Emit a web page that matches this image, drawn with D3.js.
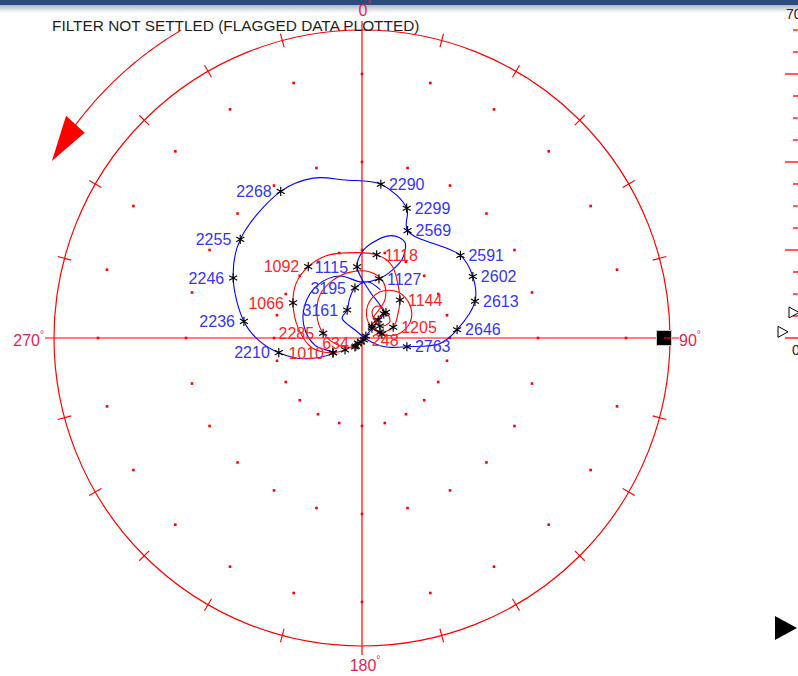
<!DOCTYPE html>
<html><head><meta charset="utf-8">
<script src="https://cdn.jsdelivr.net/npm/d3@7"></script>
<style>
html,body{margin:0;padding:0;background:#fff;overflow:hidden}
svg{display:block;font-family:"Liberation Sans",Arial,sans-serif}
</style></head><body>
<svg id="chart" width="798" height="676"></svg>
<script>
// ---- polar grid ----
const ampMax = 70;                 // full-scale amplitude at the rim
const gridRings = [20, 40, 60];    // rings of grid dots
const gridStep = 15;               // degrees between grid dots / rim ticks
const axisDegrees = [0, 90, 180, 270];
const title = "FILTER NOT SETTLED (FLAGGED DATA PLOTTED)";

// ---- blue trace: amplitude, phase (deg) and marker ("*" = marker only) ----
const blueAmp   = [2.3, 0.9, 1.0, 3.2, 5.5, 7.4, 8.5, 10.6, 16.2, 19.5, 21.7, 24.2, 23.9, 20.3, 16.9, 14.0, 12.7, 15.0, 15.7, 15.0, 13.4, 10.8, 7.4, 13.8, 19.2, 23.6, 27.1, 32.3, 35.6, 38.1, 38.0, 36.1, 35.2, 31.2, 26.5, 29.2, 28.8, 27.0, 21.7, 17.8, 10.4, 5.6, 1.4, 2.4, 6.4, 7.2, 9.5, 11.5, 12.8, 11.7];
const bluePhase = [217, 194, 63, 45, 42, 42, 29, 10, 356, 0, 6, 16, 24, 27, 24, 16, 0, 340, 320, 300, 281, 261, 243, 250, 260, 269, 278, 295, 309, 331, 343, 354, 7, 19, 23, 50, 61, 72, 85, 94, 101, 111, 108, 319, 315, 332, 343, 352, 6, 21];
const blueMark  = ["*","*","*","*","*","*","","","1115","","","","","","","1127","","","","","","","*","","2210","","2236","2246","2255","2268","","","2290","2299","2569","2591","2602","2613","2646","","2763","","","","","3161","","3195","",""];

// ---- red trace ----
const redAmp   = [0.6, 1.5, 4.7, 7.4, 11.6, 14.7, 17.6, 19.5, 20.3, 20.4, 19.7, 19.2, 17.9, 14.9, 12.2, 9.7, 7.5, 4.3, 3.9, 7.6, 11.2, 13.3, 13.2, 11.5, 8.2, 4.6, 3.5, 5.8, 8.0, 7.3, 4.9, 6.3, 7.9, 8.3, 6.4, 5.0, 10.1, 13.6, 15.1, 15.2, 14.7, 13.7, 11.5, 8.9, 5.3, 2.6];
const redPhase = [135, 219, 235, 243, 259, 279, 297, 310, 323, 336, 349, 10, 22, 33, 45, 57, 71, 72, 21, 10, 21, 38, 56, 72, 84, 79, 40, 39, 43, 60, 56, 21, 24, 35, 42, 30, 31, 21, 7, 350, 333, 316, 297, 277, 250, 218];
const redMark  = ["248","634","*","1010","","","1066","","1092","","","1118","","","1144","","1205","*","","","","","","","","*","*","","*","","*","","","","","","","","","","","","","2285","","*"];

// ---- side bar gauge ----
const barMax = 70;
const barTicks = d3.range(0, 75, 5);
const barMarkers = [5.8, 1.4];

const svg = d3.select("#chart");
const W = 798, H = 676;
const cx = 362, cy = 338, R = 308;
const colAxis = "#ff0000", colDeg = "#e21f55", colBlue = "#0000ff", colBlueTxt = "#3535f2", colRedTxt = "#ff2424";

const r = d3.scaleLinear().domain([0, ampMax]).range([0, R]);
const rad = d => d * Math.PI / 180;

// window frame strip along the top
const defs = svg.append("defs");
const grad = defs.append("linearGradient").attr("id","shade").attr("x1",0).attr("y1",0).attr("x2",0).attr("y2",1);
grad.append("stop").attr("offset","0%").attr("stop-color","#aeb6c2");
grad.append("stop").attr("offset","100%").attr("stop-color","#ffffff");
svg.append("rect").attr("x",0).attr("y",5).attr("width",W).attr("height",8).attr("fill","url(#shade)");
svg.append("rect").attr("x",0).attr("y",0).attr("width",W).attr("height",5).attr("fill","#2a4b7c");

const g = svg.append("g").attr("transform", `translate(${cx},${cy})`);

// grid dots
const dots = [];
gridRings.forEach(a => d3.range(0, 360, gridStep).forEach(p => dots.push(d3.pointRadial(rad(p), r(a)))));
g.append("g").selectAll("rect").data(dots).join("rect")
  .attr("x", d => d[0] - 1.3).attr("y", d => d[1] - 1.3)
  .attr("width", 2.6).attr("height", 2.6).attr("fill", colAxis);

// cross-hair axes
const ext = r(ampMax) + 9;
axisDegrees.filter(d => d < 180).forEach(d => {
  const p1 = d3.pointRadial(rad(d), ext), p2 = d3.pointRadial(rad(d + 180), ext);
  g.append("line").attr("x1", p1[0]).attr("y1", p1[1]).attr("x2", p2[0]).attr("y2", p2[1])
    .attr("stroke", colAxis).attr("stroke-width", 1.2);
});

// outer circle
g.append("circle").attr("r", r(ampMax)).attr("fill", "none").attr("stroke", colAxis).attr("stroke-width", 1.2);

// rim ticks
d3.range(0, 360, gridStep).filter(d => d % 90 !== 0).forEach(d => {
  const p1 = d3.pointRadial(rad(d), r(ampMax) - 7), p2 = d3.pointRadial(rad(d), r(ampMax) + 7);
  g.append("line").attr("x1", p1[0]).attr("y1", p1[1]).attr("x2", p2[0]).attr("y2", p2[1])
    .attr("stroke", colAxis).attr("stroke-width", 1.1);
});

// rotation arrow outside the rim
const arrowR = r(ampMax) + 49;
const arcPts = d3.range(329.5, 306.4, -0.5).map(p => [rad(p), arrowR]);
g.append("path").attr("d", d3.lineRadial().angle(d => d[0]).radius(d => d[1])(arcPts))
  .attr("fill", "none").attr("stroke", colAxis).attr("stroke-width", 1.1);
const tip = d3.pointRadial(rad(299.7), arrowR);
const b1 = d3.pointRadial(rad(306.9), arrowR + 13);
const b2 = d3.pointRadial(rad(306.5), arrowR - 12);
g.append("path").attr("d", `M${tip}L${b1}L${b2}Z`).attr("fill", colAxis);

// reference marker at 90°
const sq = d3.pointRadial(rad(90), r(ampMax) - 6);
g.append("rect").attr("x", sq[0] - 7.5).attr("y", sq[1] - 7.5).attr("width", 15).attr("height", 15)
  .attr("fill", "#000").attr("stroke", "#c8c8c8").attr("stroke-width", 1);
g.append("line").attr("x1", sq[0]).attr("y1", 0).attr("x2", sq[0] + 7).attr("y2", 0).attr("stroke", colAxis).attr("stroke-width", 1.2);

// traces
function toPts(amp, phase, mark) {
  return amp.map((a, i) => ({ amp: a, phase: phase[i], mark: mark[i] }));
}
const blue = toPts(blueAmp, bluePhase, blueMark);
const red = toPts(redAmp, redPhase, redMark);
const line = d3.lineRadial().angle(d => rad(d.phase)).radius(d => r(d.amp)).curve(d3.curveCatmullRom.alpha(0.5));
g.append("path").attr("d", line(blue)).attr("fill", "none").attr("stroke", colBlue).attr("stroke-width", 1.1);
g.append("path").attr("d", line(red)).attr("fill", "none").attr("stroke", colAxis).attr("stroke-width", 1.1);

// asterisk markers
function star(p) {
  const [x, y] = d3.pointRadial(rad(p.phase), r(p.amp));
  const a = 4.6, h = 4.0, v = 2.3;
  return `M${x},${y - a}L${x},${y + a}M${x - h},${y - v}L${x + h},${y + v}M${x - h},${y + v}L${x + h},${y - v}`;
}
const marked = blue.filter(d => d.mark).concat(red.filter(d => d.mark));
g.append("g").selectAll("path").data(marked).join("path")
  .attr("d", star).attr("stroke", "#000").attr("stroke-width", 1.15).attr("fill", "none");

// speed labels beside the markers
function labels(pts, color) {
  g.append("g").selectAll("text").data(pts.filter(d => d.mark && d.mark !== "*")).join("text")
    .attr("x", d => { const x = d3.pointRadial(rad(d.phase), r(d.amp))[0]; return (d.phase % 360) < 180 ? x + 8 : x - 9; })
    .attr("y", d => d3.pointRadial(rad(d.phase), r(d.amp))[1])
    .attr("dy", "0.36em")
    .attr("text-anchor", d => (d.phase % 360) < 180 ? "start" : "end")
    .attr("font-size", 16).attr("fill", color)
    .text(d => d.mark);
}
labels(blue, colBlueTxt);
labels(red, colRedTxt);

// degree labels
function degLabel(x, y, txt, anchor) {
  const t = svg.append("text").attr("x", x).attr("y", y).attr("text-anchor", anchor)
    .attr("font-size", 16).attr("fill", colDeg);
  t.append("tspan").text(txt);
  t.append("tspan").attr("font-size", 10).attr("dy", -8).text("°");
}
degLabel(cx + 3, cy - R - 14, "0", "middle");
degLabel(cx + R + 9, cy + 8, "90", "start");
degLabel(cx + 3, cy + R + 25, "180", "middle");
degLabel(cx - R - 10, cy + 8, "270", "end");

// status title
svg.append("text").attr("x", 52).attr("y", 31).attr("font-size", 15.4).attr("fill", "#1e1e1e").text(title);

// side bar gauge (partially visible at the right edge)
const barY = d3.scaleLinear().domain([0, barMax]).range([cy, cy - R]);
svg.append("g").selectAll("line").data(barTicks).join("line")
  .attr("x1", d => d % 20 === 0 ? 785 : 793).attr("x2", W)
  .attr("y1", d => barY(d)).attr("y2", d => barY(d))
  .attr("stroke", colAxis).attr("stroke-width", 1.3);
svg.append("text").attr("x", 786).attr("y", 19).attr("font-size", 14).attr("fill", "#222").text("70");
svg.append("text").attr("x", 792).attr("y", 355).attr("font-size", 14).attr("fill", "#223").text("0");
svg.append("g").selectAll("path").data(barMarkers).join("path")
  .attr("d", (d, i) => {
    const y = barY(d), x0 = i === 0 ? 789 : 778, w = 10;
    return `M${x0},${y - 5.5}L${x0 + w},${y}L${x0},${y + 5.5}Z`;
  })
  .attr("fill", "#fff").attr("stroke", "#000").attr("stroke-width", 1);
svg.append("path").attr("d", "M775,616L797,628L775,640Z").attr("fill", "#000");
</script>
</body></html>
